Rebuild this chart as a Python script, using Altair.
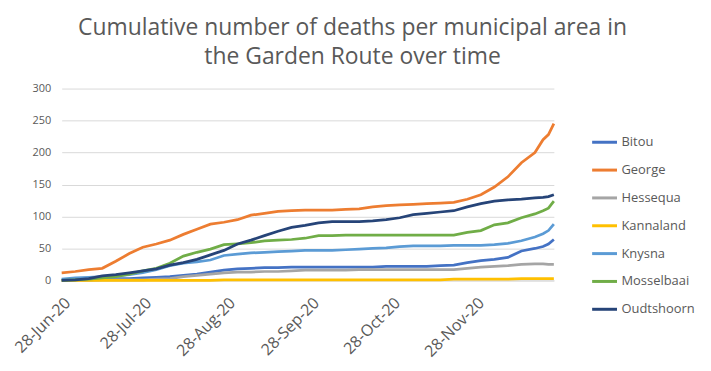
import altair as alt
import pandas as pd

dates = ["2020-06-28", "2020-07-03", "2020-07-08", "2020-07-13", "2020-07-18", "2020-07-23",
         "2020-07-28", "2020-08-02", "2020-08-07", "2020-08-12", "2020-08-17", "2020-08-22",
         "2020-08-27", "2020-09-01", "2020-09-06", "2020-09-11", "2020-09-16", "2020-09-21",
         "2020-09-26", "2020-10-01", "2020-10-06", "2020-10-11", "2020-10-16", "2020-10-21",
         "2020-10-26", "2020-10-31", "2020-11-05", "2020-11-10", "2020-11-15", "2020-11-20",
         "2020-11-25", "2020-11-30", "2020-12-05", "2020-12-10", "2020-12-15", "2020-12-20",
         "2020-12-23", "2020-12-25", "2020-12-27"]

bitou = [1, 1, 2, 2, 3, 3, 4, 5, 6, 8, 10, 13, 16, 18, 19, 20, 20, 21, 21, 21, 21, 21, 21, 21,
         22, 22, 22, 22, 23, 24, 28, 31, 33, 36, 46, 50, 53, 57, 64]
george = [12, 14, 17, 19, 30, 42, 52, 57, 63, 72, 80, 88, 91, 95, 102, 105, 108, 109, 110, 110,
          110, 111, 112, 115, 117, 118, 119, 120, 121, 122, 127, 134, 146, 162, 184, 200, 220,
          228, 245]
hessequa = [0, 0, 0, 1, 1, 1, 1, 2, 3, 6, 8, 10, 12, 13, 13, 14, 14, 15, 16, 16, 16, 16, 17, 17,
            17, 17, 17, 17, 17, 17, 19, 21, 22, 23, 25, 26, 26, 25, 25]
kannaland = [0, 0, 0, 0, 0, 0, 0, 0, 0, 0, 0, 0, 1, 1, 1, 1, 1, 1, 1, 1, 1, 1, 1, 1,
             1, 1, 1, 1, 1, 2, 2, 2, 2, 2, 3, 3, 3, 3, 3]
knysna = [2, 4, 5, 6, 7, 9, 12, 17, 23, 27, 29, 32, 39, 41, 43, 44, 45, 46, 47, 47, 47, 48, 49,
          50, 51, 53, 54, 54, 54, 55, 55, 55, 56, 58, 62, 68, 73, 78, 88]
mosselbaai = [0, 1, 2, 4, 6, 10, 15, 19, 27, 38, 44, 49, 56, 57, 59, 62, 63, 64, 66, 70, 70, 71,
              71, 71, 71, 71, 71, 71, 71, 71, 75, 78, 87, 90, 98, 104, 109, 113, 124]
oudtshoorn = [0, 1, 3, 7, 9, 12, 15, 18, 24, 28, 33, 40, 47, 57, 63, 70, 77, 83, 86, 90, 92, 92,
              92, 93, 95, 98, 103, 105, 107, 109, 115, 120, 124, 126, 127, 129, 130, 131, 134]

series = {
    "Bitou": bitou,
    "George": george,
    "Hessequa": hessequa,
    "Kannaland": kannaland,
    "Knysna": knysna,
    "Mosselbaai": mosselbaai,
    "Oudtshoorn": oudtshoorn,
}
colors = ["#4472C4", "#ED7D31", "#A5A5A5", "#FFC000", "#5B9BD5", "#70AD47", "#264478"]

rows = []
for name, vals in series.items():
    for d, v in zip(dates, vals):
        rows.append({"date": pd.Timestamp(d), "area": name, "deaths": v})
df = pd.DataFrame(rows)

tick_dates = [alt.DateTime(year=2020, month=m, date=28) for m in [6, 7, 8, 9, 10, 11]]

font = "Open Sans"
txt = "#595959"

chart = alt.Chart(df).mark_line(strokeWidth=2.75).encode(
    x=alt.X("date:T",
            scale=alt.Scale(domain=[alt.DateTime(year=2020, month=6, date=28),
                                    alt.DateTime(year=2020, month=12, date=27)], nice=False),
            axis=alt.Axis(values=tick_dates, format="%d-%b-%y", labelAngle=-45, title=None,
                          grid=False, ticks=False, domainColor="#D9D9D9", labelFontSize=16,
                          labelColor=txt, labelFont=font, labelPadding=14)),
    y=alt.Y("deaths:Q",
            scale=alt.Scale(domain=[0, 300]),
            axis=alt.Axis(values=[0, 50, 100, 150, 200, 250, 300], title=None, domain=False,
                          ticks=False, gridColor="#D9D9D9", labelFontSize=11, labelColor=txt,
                          labelFont=font, labelPadding=11)),
    color=alt.Color("area:N", scale=alt.Scale(domain=list(series.keys()), range=colors),
                    legend=alt.Legend(title=None, orient="none", legendX=532, legendY=40,
                                      symbolType="stroke", symbolSize=625, symbolStrokeWidth=3,
                                      labelFontSize=13, labelColor=txt, labelFont=font,
                                      labelOffset=3, rowPadding=7)),
).properties(
    width=495,
    height=193,
    title=alt.TitleParams(["Cumulative number of deaths per municipal area in",
                           "the Garden Route over time"],
                          fontSize=23, font=font, color=txt, fontWeight="normal",
                          anchor="middle", dx=45, lineHeight=29, offset=14),
    padding={"left": 54, "top": 80, "right": 150, "bottom": 80},
    autosize=alt.AutoSizeParams(type="none"),
).configure_view(stroke=None)

chart.save("out.html", embed_options={"renderer": "svg", "actions": False})
